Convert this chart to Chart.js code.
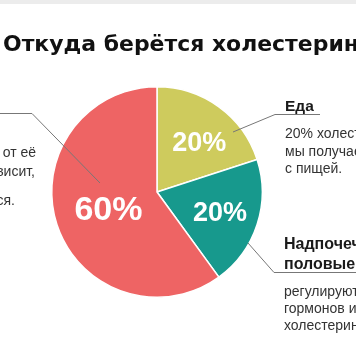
<!DOCTYPE html>
<html>
<head>
<meta charset="utf-8">
<script src="https://cdn.jsdelivr.net/npm/chart.js@4/dist/chart.umd.min.js"></script>
<style>
  html, body { margin: 0; padding: 0; background: #ffffff; overflow: hidden; }
  #wrap { position: relative; width: 356px; height: 364px; }
</style>
</head>
<body>
<div id="wrap"><canvas id="c" width="356" height="364"></canvas></div>
<script>
// ---- data ----
const categories = ['Еда', 'Надпочечники и половые железы', 'Печень'];
const shares = [20, 20, 60];
const valueLabels = ['20%', '20%', '60%'];
const sliceColors = ['#cecb5d', '#17998d', '#ee6464'];

const titleText = 'Откуда берётся холестерин';
const foodHeading = ['Еда'];
const foodText = ['20% холестерина', 'мы получаем', 'с пищей.'];
const glandsHeading = ['Надпочечники и', 'половые железы'];
const glandsText = ['регулируют уровень', 'гормонов и', 'холестерина'];
const liverText = ['холестерина от её', 'работы зависит,', '', 'вырабатывается.'];

const overlay = {
  id: 'overlay',
  afterDraw(chart) {
    const ctx = chart.ctx;
    ctx.save();
    // faint top band
    ctx.fillStyle = '#ececec';
    ctx.fillRect(0, 0, 356, 4);

    // title, fitted to width
    ctx.fillStyle = '#111111';
    ctx.textAlign = 'left';
    ctx.textBaseline = 'alphabetic';
    ctx.font = 'bold 24px "DejaVu Sans"';
    const w24 = ctx.measureText(titleText).width;
    const ts = 24 * 356 / w24;
    ctx.font = 'bold ' + ts.toFixed(2) + 'px "DejaVu Sans"';
    ctx.fillText(titleText, 3, 51);

    // leader lines
    ctx.strokeStyle = '#777777';
    ctx.lineWidth = 1;
    ctx.beginPath();
    ctx.moveTo(0, 113.5); ctx.lineTo(32, 113.5); ctx.lineTo(100, 183);
    ctx.moveTo(233, 132); ctx.lineTo(275, 114.5); ctx.lineTo(320, 114.5);
    ctx.moveTo(248, 243); ctx.lineTo(274, 272.5); ctx.lineTo(356, 272.5);
    ctx.stroke();

    // right texts
    ctx.fillStyle = '#1a1a1a';
    ctx.font = 'bold 15.5px "Liberation Sans"';
    ctx.fillText(foodHeading[0], 285, 111);
    ctx.font = 'bold 16px "Liberation Sans"';
    ctx.fillText(glandsHeading[0], 284, 249);
    ctx.fillText(glandsHeading[1], 284, 269);

    ctx.fillStyle = '#333333';
    ctx.font = '14px "Liberation Sans"';
    const fy = [138, 155.5, 173];
    foodText.forEach((t, i) => ctx.fillText(t, 285, fy[i]));
    const gy = [296, 313, 329.5];
    glandsText.forEach((t, i) => ctx.fillText(t, 284, gy[i]));

    // left text (cropped)
    ctx.textAlign = 'right';
    const ly = [157, 175.5, 190, 205];
    const lx = [36, 35, 0, 15];
    liverText.forEach((t, i) => { if (t) ctx.fillText(t, lx[i], ly[i]); });

    // percentage labels on slices
    const meta = chart.getDatasetMeta(0);
    const radF = [0.625, 0.625, 0.485];
    const angTweak = [4, -1, 0];
    const fSize = [27, 27, 34];
    ctx.textAlign = 'center';
    ctx.fillStyle = '#ffffff';
    meta.data.forEach((arc, i) => {
      const p = arc.getProps(['x', 'y', 'startAngle', 'endAngle', 'outerRadius'], true);
      const mid = (p.startAngle + p.endAngle) / 2 + angTweak[i] * Math.PI / 180;
      const r = p.outerRadius * radF[i];
      const x = p.x + Math.cos(mid) * r;
      const y = p.y + Math.sin(mid) * r;
      ctx.font = 'bold ' + fSize[i] + 'px "Liberation Sans"';
      ctx.fillText(valueLabels[i], x, y + fSize[i] * 0.358);
    });
    ctx.restore();
  }
};

new Chart(document.getElementById('c'), {
  type: 'pie',
  data: {
    labels: categories,
    datasets: [{
      data: shares,
      backgroundColor: sliceColors,
      borderColor: '#ffffff',
      borderWidth: 1.5,
      hoverOffset: 0
    }]
  },
  options: {
    responsive: false,
    devicePixelRatio: 1,
    animation: false,
    events: [],
    layout: { padding: { left: 51, right: 93, top: 86, bottom: 66 } },
    plugins: { legend: { display: false }, tooltip: { enabled: false }, title: { display: false } }
  },
  plugins: [overlay]
});
</script>
</body>
</html>
